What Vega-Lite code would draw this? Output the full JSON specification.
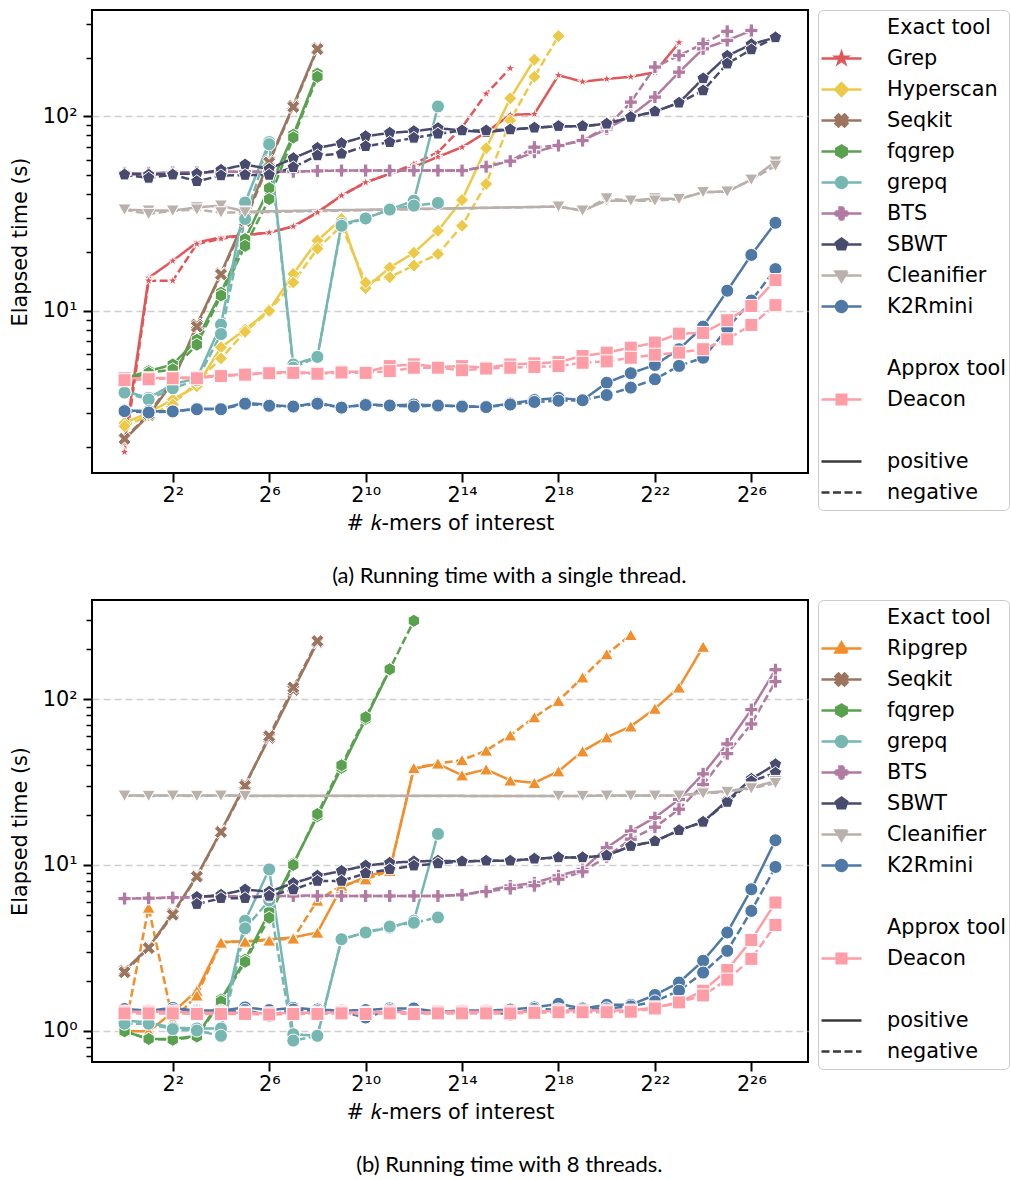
{
"$schema": "https://vega.github.io/schema/vega-lite/v6.json",
"background": "white",
"padding": {"left": 8, "top": 8, "right": 0, "bottom": 0},
"spacing": 10,
"datasets": {
"single": [
{"tool":"Grep","type":"positive","k":1,"t":2.1},{"tool":"Grep","type":"positive","k":2,"t":14.8},{"tool":"Grep","type":"positive","k":4,"t":18.1},{"tool":"Grep","type":"positive","k":8,"t":22.5},{"tool":"Grep","type":"positive","k":16,"t":23.9},{"tool":"Grep","type":"positive","k":32,"t":24.5},{"tool":"Grep","type":"positive","k":64,"t":25.3},{"tool":"Grep","type":"positive","k":128,"t":27.2},{"tool":"Grep","type":"positive","k":256,"t":32.1},{"tool":"Grep","type":"positive","k":512,"t":39.2},{"tool":"Grep","type":"positive","k":1024,"t":45.8},{"tool":"Grep","type":"positive","k":2048,"t":50.7},{"tool":"Grep","type":"positive","k":4096,"t":55},{"tool":"Grep","type":"positive","k":8192,"t":62},{"tool":"Grep","type":"positive","k":16384,"t":69.5},{"tool":"Grep","type":"positive","k":32768,"t":83},{"tool":"Grep","type":"positive","k":65536,"t":102},{"tool":"Grep","type":"positive","k":131072,"t":103},{"tool":"Grep","type":"positive","k":262144,"t":163},{"tool":"Grep","type":"positive","k":524288,"t":151},{"tool":"Grep","type":"positive","k":1048576,"t":156},{"tool":"Grep","type":"positive","k":2097152,"t":160},{"tool":"Grep","type":"positive","k":4194304,"t":169},{"tool":"Grep","type":"positive","k":8388608,"t":240},
{"tool":"Grep","type":"negative","k":1,"t":1.88},{"tool":"Grep","type":"negative","k":2,"t":14.3},{"tool":"Grep","type":"negative","k":4,"t":14.3},{"tool":"Grep","type":"negative","k":8,"t":22.1},{"tool":"Grep","type":"negative","k":16,"t":23.5},{"tool":"Grep","type":"negative","k":32,"t":24.5},{"tool":"Grep","type":"negative","k":64,"t":25.3},{"tool":"Grep","type":"negative","k":128,"t":27.2},{"tool":"Grep","type":"negative","k":256,"t":32.1},{"tool":"Grep","type":"negative","k":512,"t":39.2},{"tool":"Grep","type":"negative","k":1024,"t":45.8},{"tool":"Grep","type":"negative","k":2048,"t":50.7},{"tool":"Grep","type":"negative","k":4096,"t":57},{"tool":"Grep","type":"negative","k":8192,"t":65.5},{"tool":"Grep","type":"negative","k":16384,"t":88},{"tool":"Grep","type":"negative","k":32768,"t":131},{"tool":"Grep","type":"negative","k":65536,"t":177},
{"tool":"Hyperscan","type":"positive","k":1,"t":2.65},{"tool":"Hyperscan","type":"positive","k":2,"t":3.0},{"tool":"Hyperscan","type":"positive","k":4,"t":3.5},{"tool":"Hyperscan","type":"positive","k":8,"t":4.1},{"tool":"Hyperscan","type":"positive","k":16,"t":6.5},{"tool":"Hyperscan","type":"positive","k":32,"t":8.0},{"tool":"Hyperscan","type":"positive","k":64,"t":10.1},{"tool":"Hyperscan","type":"positive","k":128,"t":15.5},{"tool":"Hyperscan","type":"positive","k":256,"t":23.0},{"tool":"Hyperscan","type":"positive","k":512,"t":29.7},{"tool":"Hyperscan","type":"positive","k":1024,"t":13.1},{"tool":"Hyperscan","type":"positive","k":2048,"t":16.7},{"tool":"Hyperscan","type":"positive","k":4096,"t":19.9},{"tool":"Hyperscan","type":"positive","k":8192,"t":25.8},{"tool":"Hyperscan","type":"positive","k":16384,"t":37.2},{"tool":"Hyperscan","type":"positive","k":32768,"t":68.7},{"tool":"Hyperscan","type":"positive","k":65536,"t":124},{"tool":"Hyperscan","type":"positive","k":131072,"t":196},
{"tool":"Hyperscan","type":"negative","k":1,"t":2.55},{"tool":"Hyperscan","type":"negative","k":2,"t":2.9},{"tool":"Hyperscan","type":"negative","k":4,"t":3.3},{"tool":"Hyperscan","type":"negative","k":8,"t":4.3},{"tool":"Hyperscan","type":"negative","k":16,"t":5.7},{"tool":"Hyperscan","type":"negative","k":32,"t":7.8},{"tool":"Hyperscan","type":"negative","k":64,"t":10.0},{"tool":"Hyperscan","type":"negative","k":128,"t":14.0},{"tool":"Hyperscan","type":"negative","k":256,"t":20.9},{"tool":"Hyperscan","type":"negative","k":512,"t":27.4},{"tool":"Hyperscan","type":"negative","k":1024,"t":14.0},{"tool":"Hyperscan","type":"negative","k":2048,"t":14.9},{"tool":"Hyperscan","type":"negative","k":4096,"t":17.1},{"tool":"Hyperscan","type":"negative","k":8192,"t":19.6},{"tool":"Hyperscan","type":"negative","k":16384,"t":27.4},{"tool":"Hyperscan","type":"negative","k":32768,"t":45},{"tool":"Hyperscan","type":"negative","k":65536,"t":95.3},{"tool":"Hyperscan","type":"negative","k":131072,"t":160},{"tool":"Hyperscan","type":"negative","k":262144,"t":259},
{"tool":"Seqkit","type":"positive","k":1,"t":2.18},{"tool":"Seqkit","type":"positive","k":2,"t":2.9},{"tool":"Seqkit","type":"positive","k":4,"t":4.3},{"tool":"Seqkit","type":"positive","k":8,"t":8.5},{"tool":"Seqkit","type":"positive","k":16,"t":15.6},{"tool":"Seqkit","type":"positive","k":32,"t":30},{"tool":"Seqkit","type":"positive","k":64,"t":59},{"tool":"Seqkit","type":"positive","k":128,"t":114},{"tool":"Seqkit","type":"positive","k":256,"t":225},
{"tool":"Seqkit","type":"negative","k":1,"t":2.2},{"tool":"Seqkit","type":"negative","k":2,"t":2.95},{"tool":"Seqkit","type":"negative","k":4,"t":4.4},{"tool":"Seqkit","type":"negative","k":8,"t":8.3},{"tool":"Seqkit","type":"negative","k":16,"t":15.4},{"tool":"Seqkit","type":"negative","k":32,"t":29},{"tool":"Seqkit","type":"negative","k":64,"t":58},{"tool":"Seqkit","type":"negative","k":128,"t":112},{"tool":"Seqkit","type":"negative","k":256,"t":222},
{"tool":"fqgrep","type":"positive","k":1,"t":4.5},{"tool":"fqgrep","type":"positive","k":2,"t":4.9},{"tool":"fqgrep","type":"positive","k":4,"t":5.3},{"tool":"fqgrep","type":"positive","k":8,"t":7.1},{"tool":"fqgrep","type":"positive","k":16,"t":12.4},{"tool":"fqgrep","type":"positive","k":32,"t":23.4},{"tool":"fqgrep","type":"positive","k":64,"t":42.8},{"tool":"fqgrep","type":"positive","k":128,"t":80.5},{"tool":"fqgrep","type":"positive","k":256,"t":166},
{"tool":"fqgrep","type":"negative","k":1,"t":4.4},{"tool":"fqgrep","type":"negative","k":2,"t":4.8},{"tool":"fqgrep","type":"negative","k":4,"t":5.0},{"tool":"fqgrep","type":"negative","k":8,"t":6.7},{"tool":"fqgrep","type":"negative","k":16,"t":12.0},{"tool":"fqgrep","type":"negative","k":32,"t":21.6},{"tool":"fqgrep","type":"negative","k":64,"t":37.6},{"tool":"fqgrep","type":"negative","k":128,"t":78},{"tool":"fqgrep","type":"negative","k":256,"t":160},
{"tool":"grepq","type":"positive","k":1,"t":3.87},{"tool":"grepq","type":"positive","k":2,"t":3.57},{"tool":"grepq","type":"positive","k":4,"t":4.19},{"tool":"grepq","type":"positive","k":8,"t":4.5},{"tool":"grepq","type":"positive","k":16,"t":8.5},{"tool":"grepq","type":"positive","k":32,"t":36.1},{"tool":"grepq","type":"positive","k":64,"t":73.8},{"tool":"grepq","type":"positive","k":128,"t":5.3},{"tool":"grepq","type":"positive","k":256,"t":5.8},{"tool":"grepq","type":"positive","k":512,"t":28},{"tool":"grepq","type":"positive","k":1024,"t":29.9},{"tool":"grepq","type":"positive","k":2048,"t":33.2},{"tool":"grepq","type":"positive","k":4096,"t":36.9},{"tool":"grepq","type":"positive","k":8192,"t":112.6},
{"tool":"grepq","type":"negative","k":1,"t":3.8},{"tool":"grepq","type":"negative","k":2,"t":3.5},{"tool":"grepq","type":"negative","k":4,"t":4.0},{"tool":"grepq","type":"negative","k":8,"t":4.4},{"tool":"grepq","type":"negative","k":16,"t":7.6},{"tool":"grepq","type":"negative","k":32,"t":29.7},{"tool":"grepq","type":"negative","k":64,"t":72},{"tool":"grepq","type":"negative","k":128,"t":5.1},{"tool":"grepq","type":"negative","k":256,"t":5.8},{"tool":"grepq","type":"negative","k":512,"t":27.4},{"tool":"grepq","type":"negative","k":1024,"t":29.9},{"tool":"grepq","type":"negative","k":2048,"t":33.2},{"tool":"grepq","type":"negative","k":4096,"t":34.8},{"tool":"grepq","type":"negative","k":8192,"t":35.9},
{"tool":"BTS","type":"positive","k":1,"t":51},{"tool":"BTS","type":"positive","k":2,"t":51},{"tool":"BTS","type":"positive","k":4,"t":51.5},{"tool":"BTS","type":"positive","k":8,"t":51.5},{"tool":"BTS","type":"positive","k":16,"t":52},{"tool":"BTS","type":"positive","k":32,"t":52},{"tool":"BTS","type":"positive","k":64,"t":52},{"tool":"BTS","type":"positive","k":128,"t":52},{"tool":"BTS","type":"positive","k":256,"t":52.5},{"tool":"BTS","type":"positive","k":512,"t":52.7},{"tool":"BTS","type":"positive","k":1024,"t":52.7},{"tool":"BTS","type":"positive","k":2048,"t":52.7},{"tool":"BTS","type":"positive","k":4096,"t":52.7},{"tool":"BTS","type":"positive","k":8192,"t":52.7},{"tool":"BTS","type":"positive","k":16384,"t":52.7},{"tool":"BTS","type":"positive","k":32768,"t":55.2},{"tool":"BTS","type":"positive","k":65536,"t":58.9},{"tool":"BTS","type":"positive","k":131072,"t":65.5},{"tool":"BTS","type":"positive","k":262144,"t":70.9},{"tool":"BTS","type":"positive","k":524288,"t":75.2},{"tool":"BTS","type":"positive","k":1048576,"t":86.3},{"tool":"BTS","type":"positive","k":2097152,"t":101},{"tool":"BTS","type":"positive","k":4194304,"t":125.8},{"tool":"BTS","type":"positive","k":8388608,"t":169},{"tool":"BTS","type":"positive","k":16777216,"t":223},{"tool":"BTS","type":"positive","k":33554432,"t":246},{"tool":"BTS","type":"positive","k":67108864,"t":277},
{"tool":"BTS","type":"negative","k":1,"t":51},{"tool":"BTS","type":"negative","k":2,"t":51},{"tool":"BTS","type":"negative","k":4,"t":51.5},{"tool":"BTS","type":"negative","k":8,"t":51.5},{"tool":"BTS","type":"negative","k":16,"t":52},{"tool":"BTS","type":"negative","k":32,"t":52},{"tool":"BTS","type":"negative","k":64,"t":52},{"tool":"BTS","type":"negative","k":128,"t":52},{"tool":"BTS","type":"negative","k":256,"t":52.5},{"tool":"BTS","type":"negative","k":512,"t":52.7},{"tool":"BTS","type":"negative","k":1024,"t":52.7},{"tool":"BTS","type":"negative","k":2048,"t":52.7},{"tool":"BTS","type":"negative","k":4096,"t":52.7},{"tool":"BTS","type":"negative","k":8192,"t":52.7},{"tool":"BTS","type":"negative","k":16384,"t":52.7},{"tool":"BTS","type":"negative","k":32768,"t":55.2},{"tool":"BTS","type":"negative","k":65536,"t":58.9},{"tool":"BTS","type":"negative","k":131072,"t":69.5},{"tool":"BTS","type":"negative","k":262144,"t":70.9},{"tool":"BTS","type":"negative","k":524288,"t":75.2},{"tool":"BTS","type":"negative","k":1048576,"t":88.1},{"tool":"BTS","type":"negative","k":2097152,"t":118.5},{"tool":"BTS","type":"negative","k":4194304,"t":179.6},{"tool":"BTS","type":"negative","k":8388608,"t":206},{"tool":"BTS","type":"negative","k":16777216,"t":237},{"tool":"BTS","type":"negative","k":33554432,"t":274},
{"tool":"SBWT","type":"positive","k":1,"t":50.7},{"tool":"SBWT","type":"positive","k":2,"t":50.2},{"tool":"SBWT","type":"positive","k":4,"t":50.7},{"tool":"SBWT","type":"positive","k":8,"t":50.7},{"tool":"SBWT","type":"positive","k":16,"t":53.1},{"tool":"SBWT","type":"positive","k":32,"t":56.6},{"tool":"SBWT","type":"positive","k":64,"t":53.7},{"tool":"SBWT","type":"positive","k":128,"t":61},{"tool":"SBWT","type":"positive","k":256,"t":68.9},{"tool":"SBWT","type":"positive","k":512,"t":72.8},{"tool":"SBWT","type":"positive","k":1024,"t":79.1},{"tool":"SBWT","type":"positive","k":2048,"t":82.4},{"tool":"SBWT","type":"positive","k":4096,"t":84},{"tool":"SBWT","type":"positive","k":8192,"t":87.1},{"tool":"SBWT","type":"positive","k":16384,"t":84.7},{"tool":"SBWT","type":"positive","k":32768,"t":83},{"tool":"SBWT","type":"positive","k":65536,"t":85.7},{"tool":"SBWT","type":"positive","k":131072,"t":87.5},{"tool":"SBWT","type":"positive","k":262144,"t":89.2},{"tool":"SBWT","type":"positive","k":524288,"t":89.2},{"tool":"SBWT","type":"positive","k":1048576,"t":91.7},{"tool":"SBWT","type":"positive","k":2097152,"t":99.3},{"tool":"SBWT","type":"positive","k":4194304,"t":106},{"tool":"SBWT","type":"positive","k":8388608,"t":117.6},{"tool":"SBWT","type":"positive","k":16777216,"t":157},{"tool":"SBWT","type":"positive","k":33554432,"t":205},{"tool":"SBWT","type":"positive","k":67108864,"t":235},{"tool":"SBWT","type":"positive","k":134217728,"t":255},
{"tool":"SBWT","type":"negative","k":1,"t":50.2},{"tool":"SBWT","type":"negative","k":2,"t":48.3},{"tool":"SBWT","type":"negative","k":4,"t":50.2},{"tool":"SBWT","type":"negative","k":8,"t":46.4},{"tool":"SBWT","type":"negative","k":16,"t":49.7},{"tool":"SBWT","type":"negative","k":32,"t":50},{"tool":"SBWT","type":"negative","k":64,"t":50},{"tool":"SBWT","type":"negative","k":128,"t":54.8},{"tool":"SBWT","type":"negative","k":256,"t":63},{"tool":"SBWT","type":"negative","k":512,"t":64.3},{"tool":"SBWT","type":"negative","k":1024,"t":70.3},{"tool":"SBWT","type":"negative","k":2048,"t":73.7},{"tool":"SBWT","type":"negative","k":4096,"t":77.6},{"tool":"SBWT","type":"negative","k":8192,"t":81.5},{"tool":"SBWT","type":"negative","k":16384,"t":84.7},{"tool":"SBWT","type":"negative","k":32768,"t":84.7},{"tool":"SBWT","type":"negative","k":65536,"t":85.7},{"tool":"SBWT","type":"negative","k":131072,"t":87.5},{"tool":"SBWT","type":"negative","k":262144,"t":89.2},{"tool":"SBWT","type":"negative","k":524288,"t":89.2},{"tool":"SBWT","type":"negative","k":1048576,"t":91.7},{"tool":"SBWT","type":"negative","k":2097152,"t":99.3},{"tool":"SBWT","type":"negative","k":4194304,"t":106},{"tool":"SBWT","type":"negative","k":8388608,"t":117.6},{"tool":"SBWT","type":"negative","k":16777216,"t":136},{"tool":"SBWT","type":"negative","k":33554432,"t":187},{"tool":"SBWT","type":"negative","k":67108864,"t":221},{"tool":"SBWT","type":"negative","k":134217728,"t":255},
{"tool":"Cleanifier","type":"positive","k":1,"t":33.2},{"tool":"Cleanifier","type":"positive","k":2,"t":32.8},{"tool":"Cleanifier","type":"positive","k":4,"t":32.8},{"tool":"Cleanifier","type":"positive","k":8,"t":34.1},{"tool":"Cleanifier","type":"positive","k":16,"t":34.8},{"tool":"Cleanifier","type":"positive","k":32,"t":32.4},{"tool":"Cleanifier","type":"positive","k":262144,"t":34.4},{"tool":"Cleanifier","type":"positive","k":524288,"t":32.8},{"tool":"Cleanifier","type":"positive","k":1048576,"t":36.9},{"tool":"Cleanifier","type":"positive","k":2097152,"t":36.9},{"tool":"Cleanifier","type":"positive","k":4194304,"t":37.9},{"tool":"Cleanifier","type":"positive","k":8388608,"t":37.6},{"tool":"Cleanifier","type":"positive","k":16777216,"t":40.8},{"tool":"Cleanifier","type":"positive","k":33554432,"t":41.1},{"tool":"Cleanifier","type":"positive","k":67108864,"t":47.3},{"tool":"Cleanifier","type":"positive","k":134217728,"t":58.6},
{"tool":"Cleanifier","type":"negative","k":1,"t":33.2},{"tool":"Cleanifier","type":"negative","k":2,"t":31.5},{"tool":"Cleanifier","type":"negative","k":4,"t":32.8},{"tool":"Cleanifier","type":"negative","k":8,"t":33.2},{"tool":"Cleanifier","type":"negative","k":16,"t":32.1},{"tool":"Cleanifier","type":"negative","k":32,"t":32.1},{"tool":"Cleanifier","type":"negative","k":262144,"t":34.4},{"tool":"Cleanifier","type":"negative","k":524288,"t":32.8},{"tool":"Cleanifier","type":"negative","k":1048576,"t":37.9},{"tool":"Cleanifier","type":"negative","k":2097152,"t":36.9},{"tool":"Cleanifier","type":"negative","k":4194304,"t":36.9},{"tool":"Cleanifier","type":"negative","k":8388608,"t":37.6},{"tool":"Cleanifier","type":"negative","k":16777216,"t":40.8},{"tool":"Cleanifier","type":"negative","k":33554432,"t":41.1},{"tool":"Cleanifier","type":"negative","k":67108864,"t":47.3},{"tool":"Cleanifier","type":"negative","k":134217728,"t":55.8},
{"tool":"K2Rmini","type":"positive","k":1,"t":3.08},{"tool":"K2Rmini","type":"positive","k":2,"t":3.05},{"tool":"K2Rmini","type":"positive","k":4,"t":3.04},{"tool":"K2Rmini","type":"positive","k":8,"t":3.14},{"tool":"K2Rmini","type":"positive","k":16,"t":3.14},{"tool":"K2Rmini","type":"positive","k":32,"t":3.37},{"tool":"K2Rmini","type":"positive","k":64,"t":3.28},{"tool":"K2Rmini","type":"positive","k":128,"t":3.22},{"tool":"K2Rmini","type":"positive","k":256,"t":3.37},{"tool":"K2Rmini","type":"positive","k":512,"t":3.18},{"tool":"K2Rmini","type":"positive","k":1024,"t":3.31},{"tool":"K2Rmini","type":"positive","k":2048,"t":3.26},{"tool":"K2Rmini","type":"positive","k":4096,"t":3.3},{"tool":"K2Rmini","type":"positive","k":8192,"t":3.26},{"tool":"K2Rmini","type":"positive","k":16384,"t":3.24},{"tool":"K2Rmini","type":"positive","k":32768,"t":3.2},{"tool":"K2Rmini","type":"positive","k":65536,"t":3.34},{"tool":"K2Rmini","type":"positive","k":131072,"t":3.48},{"tool":"K2Rmini","type":"positive","k":262144,"t":3.57},{"tool":"K2Rmini","type":"positive","k":524288,"t":3.47},{"tool":"K2Rmini","type":"positive","k":1048576,"t":4.27},{"tool":"K2Rmini","type":"positive","k":2097152,"t":4.78},{"tool":"K2Rmini","type":"positive","k":4194304,"t":5.27},{"tool":"K2Rmini","type":"positive","k":8388608,"t":6.35},{"tool":"K2Rmini","type":"positive","k":16777216,"t":8.3},{"tool":"K2Rmini","type":"positive","k":33554432,"t":12.7},{"tool":"K2Rmini","type":"positive","k":67108864,"t":19.4},{"tool":"K2Rmini","type":"positive","k":134217728,"t":28.4},
{"tool":"K2Rmini","type":"negative","k":1,"t":3.05},{"tool":"K2Rmini","type":"negative","k":2,"t":3.0},{"tool":"K2Rmini","type":"negative","k":4,"t":3.04},{"tool":"K2Rmini","type":"negative","k":8,"t":3.12},{"tool":"K2Rmini","type":"negative","k":16,"t":3.12},{"tool":"K2Rmini","type":"negative","k":32,"t":3.33},{"tool":"K2Rmini","type":"negative","k":64,"t":3.25},{"tool":"K2Rmini","type":"negative","k":128,"t":3.22},{"tool":"K2Rmini","type":"negative","k":256,"t":3.33},{"tool":"K2Rmini","type":"negative","k":512,"t":3.18},{"tool":"K2Rmini","type":"negative","k":1024,"t":3.28},{"tool":"K2Rmini","type":"negative","k":2048,"t":3.26},{"tool":"K2Rmini","type":"negative","k":4096,"t":3.22},{"tool":"K2Rmini","type":"negative","k":8192,"t":3.26},{"tool":"K2Rmini","type":"negative","k":16384,"t":3.22},{"tool":"K2Rmini","type":"negative","k":32768,"t":3.2},{"tool":"K2Rmini","type":"negative","k":65536,"t":3.3},{"tool":"K2Rmini","type":"negative","k":131072,"t":3.4},{"tool":"K2Rmini","type":"negative","k":262144,"t":3.45},{"tool":"K2Rmini","type":"negative","k":524288,"t":3.47},{"tool":"K2Rmini","type":"negative","k":1048576,"t":3.69},{"tool":"K2Rmini","type":"negative","k":2097152,"t":4.03},{"tool":"K2Rmini","type":"negative","k":4194304,"t":4.45},{"tool":"K2Rmini","type":"negative","k":8388608,"t":5.21},{"tool":"K2Rmini","type":"negative","k":16777216,"t":5.74},{"tool":"K2Rmini","type":"negative","k":33554432,"t":8.1},{"tool":"K2Rmini","type":"negative","k":67108864,"t":11.3},{"tool":"K2Rmini","type":"negative","k":134217728,"t":16.4},
{"tool":"Deacon","type":"positive","k":1,"t":4.5},{"tool":"Deacon","type":"positive","k":2,"t":4.5},{"tool":"Deacon","type":"positive","k":4,"t":4.53},{"tool":"Deacon","type":"positive","k":8,"t":4.55},{"tool":"Deacon","type":"positive","k":16,"t":4.67},{"tool":"Deacon","type":"positive","k":32,"t":4.72},{"tool":"Deacon","type":"positive","k":64,"t":4.81},{"tool":"Deacon","type":"positive","k":128,"t":4.85},{"tool":"Deacon","type":"positive","k":256,"t":4.78},{"tool":"Deacon","type":"positive","k":512,"t":4.87},{"tool":"Deacon","type":"positive","k":1024,"t":4.85},{"tool":"Deacon","type":"positive","k":2048,"t":5.2},{"tool":"Deacon","type":"positive","k":4096,"t":5.31},{"tool":"Deacon","type":"positive","k":8192,"t":5.15},{"tool":"Deacon","type":"positive","k":16384,"t":5.2},{"tool":"Deacon","type":"positive","k":32768,"t":5.1},{"tool":"Deacon","type":"positive","k":65536,"t":5.3},{"tool":"Deacon","type":"positive","k":131072,"t":5.37},{"tool":"Deacon","type":"positive","k":262144,"t":5.45},{"tool":"Deacon","type":"positive","k":524288,"t":5.86},{"tool":"Deacon","type":"positive","k":1048576,"t":6.1},{"tool":"Deacon","type":"positive","k":2097152,"t":6.47},{"tool":"Deacon","type":"positive","k":4194304,"t":6.87},{"tool":"Deacon","type":"positive","k":8388608,"t":7.64},{"tool":"Deacon","type":"positive","k":16777216,"t":7.7},{"tool":"Deacon","type":"positive","k":33554432,"t":8.95},{"tool":"Deacon","type":"positive","k":67108864,"t":10.6},{"tool":"Deacon","type":"positive","k":134217728,"t":14.4},
{"tool":"Deacon","type":"negative","k":1,"t":4.4},{"tool":"Deacon","type":"negative","k":2,"t":4.45},{"tool":"Deacon","type":"negative","k":4,"t":4.5},{"tool":"Deacon","type":"negative","k":8,"t":4.5},{"tool":"Deacon","type":"negative","k":16,"t":4.62},{"tool":"Deacon","type":"negative","k":32,"t":4.7},{"tool":"Deacon","type":"negative","k":64,"t":4.78},{"tool":"Deacon","type":"negative","k":128,"t":4.8},{"tool":"Deacon","type":"negative","k":256,"t":4.75},{"tool":"Deacon","type":"negative","k":512,"t":4.82},{"tool":"Deacon","type":"negative","k":1024,"t":4.8},{"tool":"Deacon","type":"negative","k":2048,"t":4.9},{"tool":"Deacon","type":"negative","k":4096,"t":5.1},{"tool":"Deacon","type":"negative","k":8192,"t":5.1},{"tool":"Deacon","type":"negative","k":16384,"t":4.95},{"tool":"Deacon","type":"negative","k":32768,"t":5.05},{"tool":"Deacon","type":"negative","k":65536,"t":5.1},{"tool":"Deacon","type":"negative","k":131072,"t":5.15},{"tool":"Deacon","type":"negative","k":262144,"t":5.2},{"tool":"Deacon","type":"negative","k":524288,"t":5.41},{"tool":"Deacon","type":"negative","k":1048576,"t":5.5},{"tool":"Deacon","type":"negative","k":2097152,"t":5.74},{"tool":"Deacon","type":"negative","k":4194304,"t":5.95},{"tool":"Deacon","type":"negative","k":8388608,"t":6.1},{"tool":"Deacon","type":"negative","k":16777216,"t":6.35},{"tool":"Deacon","type":"negative","k":33554432,"t":7.14},{"tool":"Deacon","type":"negative","k":67108864,"t":8.47},{"tool":"Deacon","type":"negative","k":134217728,"t":10.7}
],
"eight": [
{"tool":"Ripgrep","type":"positive","k":1,"t":0.99},{"tool":"Ripgrep","type":"positive","k":2,"t":0.99},{"tool":"Ripgrep","type":"positive","k":4,"t":1.29},{"tool":"Ripgrep","type":"positive","k":8,"t":1.74},{"tool":"Ripgrep","type":"positive","k":16,"t":3.44},{"tool":"Ripgrep","type":"positive","k":32,"t":3.45},{"tool":"Ripgrep","type":"positive","k":64,"t":3.56},{"tool":"Ripgrep","type":"positive","k":128,"t":3.65},{"tool":"Ripgrep","type":"positive","k":256,"t":3.91},{"tool":"Ripgrep","type":"positive","k":512,"t":7.3},{"tool":"Ripgrep","type":"positive","k":1024,"t":8.5},{"tool":"Ripgrep","type":"positive","k":2048,"t":9.3},{"tool":"Ripgrep","type":"positive","k":4096,"t":38},{"tool":"Ripgrep","type":"positive","k":8192,"t":40.8},{"tool":"Ripgrep","type":"positive","k":16384,"t":34.8},{"tool":"Ripgrep","type":"positive","k":32768,"t":37.8},{"tool":"Ripgrep","type":"positive","k":65536,"t":32.4},{"tool":"Ripgrep","type":"positive","k":131072,"t":31.3},{"tool":"Ripgrep","type":"positive","k":262144,"t":36.8},{"tool":"Ripgrep","type":"positive","k":524288,"t":48.6},{"tool":"Ripgrep","type":"positive","k":1048576,"t":59},{"tool":"Ripgrep","type":"positive","k":2097152,"t":68.7},{"tool":"Ripgrep","type":"positive","k":4194304,"t":87.9},{"tool":"Ripgrep","type":"positive","k":8388608,"t":118},{"tool":"Ripgrep","type":"positive","k":16777216,"t":208},
{"tool":"Ripgrep","type":"negative","k":1,"t":1.0},{"tool":"Ripgrep","type":"negative","k":2,"t":5.53},{"tool":"Ripgrep","type":"negative","k":4,"t":1.15},{"tool":"Ripgrep","type":"negative","k":8,"t":1.63},{"tool":"Ripgrep","type":"negative","k":16,"t":3.4},{"tool":"Ripgrep","type":"negative","k":32,"t":3.45},{"tool":"Ripgrep","type":"negative","k":64,"t":3.5},{"tool":"Ripgrep","type":"negative","k":128,"t":3.6},{"tool":"Ripgrep","type":"negative","k":256,"t":6.1},{"tool":"Ripgrep","type":"negative","k":512,"t":7.5},{"tool":"Ripgrep","type":"negative","k":1024,"t":8.2},{"tool":"Ripgrep","type":"negative","k":2048,"t":9.2},{"tool":"Ripgrep","type":"negative","k":4096,"t":38.5},{"tool":"Ripgrep","type":"negative","k":8192,"t":41},{"tool":"Ripgrep","type":"negative","k":16384,"t":43},{"tool":"Ripgrep","type":"negative","k":32768,"t":49.1},{"tool":"Ripgrep","type":"negative","k":65536,"t":60.7},{"tool":"Ripgrep","type":"negative","k":131072,"t":78},{"tool":"Ripgrep","type":"negative","k":262144,"t":98},{"tool":"Ripgrep","type":"negative","k":524288,"t":135.8},{"tool":"Ripgrep","type":"negative","k":1048576,"t":187.5},{"tool":"Ripgrep","type":"negative","k":2097152,"t":245},
{"tool":"Seqkit","type":"positive","k":1,"t":2.3},{"tool":"Seqkit","type":"positive","k":2,"t":3.18},{"tool":"Seqkit","type":"positive","k":4,"t":5.1},{"tool":"Seqkit","type":"positive","k":8,"t":8.6},{"tool":"Seqkit","type":"positive","k":16,"t":16.0},{"tool":"Seqkit","type":"positive","k":32,"t":30.6},{"tool":"Seqkit","type":"positive","k":64,"t":58.5},{"tool":"Seqkit","type":"positive","k":128,"t":114},{"tool":"Seqkit","type":"positive","k":256,"t":221},
{"tool":"Seqkit","type":"negative","k":1,"t":2.25},{"tool":"Seqkit","type":"negative","k":2,"t":3.15},{"tool":"Seqkit","type":"negative","k":4,"t":5.0},{"tool":"Seqkit","type":"negative","k":8,"t":8.5},{"tool":"Seqkit","type":"negative","k":16,"t":15.8},{"tool":"Seqkit","type":"negative","k":32,"t":30},{"tool":"Seqkit","type":"negative","k":64,"t":60},{"tool":"Seqkit","type":"negative","k":128,"t":118},{"tool":"Seqkit","type":"negative","k":256,"t":225},
{"tool":"fqgrep","type":"positive","k":1,"t":0.99},{"tool":"fqgrep","type":"positive","k":2,"t":0.89},{"tool":"fqgrep","type":"positive","k":4,"t":0.89},{"tool":"fqgrep","type":"positive","k":8,"t":0.93},{"tool":"fqgrep","type":"positive","k":16,"t":1.54},{"tool":"fqgrep","type":"positive","k":32,"t":2.68},{"tool":"fqgrep","type":"positive","k":64,"t":5.2},{"tool":"fqgrep","type":"positive","k":128,"t":10.2},{"tool":"fqgrep","type":"positive","k":256,"t":19.7},{"tool":"fqgrep","type":"positive","k":512,"t":38.6},{"tool":"fqgrep","type":"positive","k":1024,"t":76},{"tool":"fqgrep","type":"positive","k":2048,"t":151},
{"tool":"fqgrep","type":"negative","k":1,"t":0.99},{"tool":"fqgrep","type":"negative","k":2,"t":0.89},{"tool":"fqgrep","type":"negative","k":4,"t":0.88},{"tool":"fqgrep","type":"negative","k":8,"t":0.92},{"tool":"fqgrep","type":"negative","k":16,"t":1.5},{"tool":"fqgrep","type":"negative","k":32,"t":2.6},{"tool":"fqgrep","type":"negative","k":64,"t":4.8},{"tool":"fqgrep","type":"negative","k":128,"t":10.0},{"tool":"fqgrep","type":"negative","k":256,"t":20.3},{"tool":"fqgrep","type":"negative","k":512,"t":40},{"tool":"fqgrep","type":"negative","k":1024,"t":78},{"tool":"fqgrep","type":"negative","k":2048,"t":152},{"tool":"fqgrep","type":"negative","k":4096,"t":298},
{"tool":"grepq","type":"positive","k":1,"t":1.15},{"tool":"grepq","type":"positive","k":2,"t":1.12},{"tool":"grepq","type":"positive","k":4,"t":1.04},{"tool":"grepq","type":"positive","k":8,"t":1.03},{"tool":"grepq","type":"positive","k":16,"t":1.03},{"tool":"grepq","type":"positive","k":32,"t":4.6},{"tool":"grepq","type":"positive","k":64,"t":9.4},{"tool":"grepq","type":"positive","k":128,"t":0.95},{"tool":"grepq","type":"positive","k":256,"t":0.93},{"tool":"grepq","type":"positive","k":512,"t":3.56},{"tool":"grepq","type":"positive","k":1024,"t":3.91},{"tool":"grepq","type":"positive","k":2048,"t":4.19},{"tool":"grepq","type":"positive","k":4096,"t":4.6},{"tool":"grepq","type":"positive","k":8192,"t":15.4},
{"tool":"grepq","type":"negative","k":1,"t":1.1},{"tool":"grepq","type":"negative","k":2,"t":1.1},{"tool":"grepq","type":"negative","k":4,"t":1.02},{"tool":"grepq","type":"negative","k":8,"t":1.0},{"tool":"grepq","type":"negative","k":16,"t":0.93},{"tool":"grepq","type":"negative","k":32,"t":4.14},{"tool":"grepq","type":"negative","k":64,"t":6.1},{"tool":"grepq","type":"negative","k":128,"t":0.87},{"tool":"grepq","type":"negative","k":256,"t":0.93},{"tool":"grepq","type":"negative","k":512,"t":3.56},{"tool":"grepq","type":"negative","k":1024,"t":3.91},{"tool":"grepq","type":"negative","k":2048,"t":4.25},{"tool":"grepq","type":"negative","k":4096,"t":4.48},{"tool":"grepq","type":"negative","k":8192,"t":4.82},
{"tool":"BTS","type":"positive","k":1,"t":6.27},{"tool":"BTS","type":"positive","k":2,"t":6.3},{"tool":"BTS","type":"positive","k":4,"t":6.35},{"tool":"BTS","type":"positive","k":8,"t":6.4},{"tool":"BTS","type":"positive","k":16,"t":6.45},{"tool":"BTS","type":"positive","k":32,"t":6.45},{"tool":"BTS","type":"positive","k":64,"t":6.5},{"tool":"BTS","type":"positive","k":128,"t":6.5},{"tool":"BTS","type":"positive","k":256,"t":6.56},{"tool":"BTS","type":"positive","k":512,"t":6.5},{"tool":"BTS","type":"positive","k":1024,"t":6.5},{"tool":"BTS","type":"positive","k":2048,"t":6.5},{"tool":"BTS","type":"positive","k":4096,"t":6.5},{"tool":"BTS","type":"positive","k":8192,"t":6.5},{"tool":"BTS","type":"positive","k":16384,"t":6.6},{"tool":"BTS","type":"positive","k":32768,"t":7.0},{"tool":"BTS","type":"positive","k":65536,"t":7.46},{"tool":"BTS","type":"positive","k":131072,"t":7.8},{"tool":"BTS","type":"positive","k":262144,"t":8.6},{"tool":"BTS","type":"positive","k":524288,"t":9.4},{"tool":"BTS","type":"positive","k":1048576,"t":12.7},{"tool":"BTS","type":"positive","k":2097152,"t":16.0},{"tool":"BTS","type":"positive","k":4194304,"t":19.3},{"tool":"BTS","type":"positive","k":8388608,"t":24.9},{"tool":"BTS","type":"positive","k":16777216,"t":35.5},{"tool":"BTS","type":"positive","k":33554432,"t":53.8},{"tool":"BTS","type":"positive","k":67108864,"t":86.7},{"tool":"BTS","type":"positive","k":134217728,"t":151},
{"tool":"BTS","type":"negative","k":1,"t":6.27},{"tool":"BTS","type":"negative","k":2,"t":6.3},{"tool":"BTS","type":"negative","k":4,"t":6.35},{"tool":"BTS","type":"negative","k":8,"t":6.4},{"tool":"BTS","type":"negative","k":16,"t":6.45},{"tool":"BTS","type":"negative","k":32,"t":6.45},{"tool":"BTS","type":"negative","k":64,"t":6.5},{"tool":"BTS","type":"negative","k":128,"t":6.5},{"tool":"BTS","type":"negative","k":256,"t":6.5},{"tool":"BTS","type":"negative","k":512,"t":6.5},{"tool":"BTS","type":"negative","k":1024,"t":6.5},{"tool":"BTS","type":"negative","k":2048,"t":6.5},{"tool":"BTS","type":"negative","k":4096,"t":6.5},{"tool":"BTS","type":"negative","k":8192,"t":6.5},{"tool":"BTS","type":"negative","k":16384,"t":6.6},{"tool":"BTS","type":"negative","k":32768,"t":6.9},{"tool":"BTS","type":"negative","k":65536,"t":7.2},{"tool":"BTS","type":"negative","k":131072,"t":7.5},{"tool":"BTS","type":"negative","k":262144,"t":8.2},{"tool":"BTS","type":"negative","k":524288,"t":9.1},{"tool":"BTS","type":"negative","k":1048576,"t":11.2},{"tool":"BTS","type":"negative","k":2097152,"t":14.3},{"tool":"BTS","type":"negative","k":4194304,"t":16.9},{"tool":"BTS","type":"negative","k":8388608,"t":21.7},{"tool":"BTS","type":"negative","k":16777216,"t":30.6},{"tool":"BTS","type":"negative","k":33554432,"t":47},{"tool":"BTS","type":"negative","k":67108864,"t":71},{"tool":"BTS","type":"negative","k":134217728,"t":128},
{"tool":"SBWT","type":"positive","k":8,"t":6.4},{"tool":"SBWT","type":"positive","k":16,"t":6.6},{"tool":"SBWT","type":"positive","k":32,"t":7.1},{"tool":"SBWT","type":"positive","k":64,"t":6.9},{"tool":"SBWT","type":"positive","k":128,"t":7.76},{"tool":"SBWT","type":"positive","k":256,"t":8.6},{"tool":"SBWT","type":"positive","k":512,"t":9.2},{"tool":"SBWT","type":"positive","k":1024,"t":9.9},{"tool":"SBWT","type":"positive","k":2048,"t":10.3},{"tool":"SBWT","type":"positive","k":4096,"t":10.5},{"tool":"SBWT","type":"positive","k":8192,"t":10.6},{"tool":"SBWT","type":"positive","k":16384,"t":10.5},{"tool":"SBWT","type":"positive","k":32768,"t":10.6},{"tool":"SBWT","type":"positive","k":65536,"t":10.6},{"tool":"SBWT","type":"positive","k":131072,"t":10.9},{"tool":"SBWT","type":"positive","k":262144,"t":11.1},{"tool":"SBWT","type":"positive","k":524288,"t":11.1},{"tool":"SBWT","type":"positive","k":1048576,"t":11.4},{"tool":"SBWT","type":"positive","k":2097152,"t":13.0},{"tool":"SBWT","type":"positive","k":4194304,"t":13.9},{"tool":"SBWT","type":"positive","k":8388608,"t":16.2},{"tool":"SBWT","type":"positive","k":16777216,"t":18.2},{"tool":"SBWT","type":"positive","k":33554432,"t":24.5},{"tool":"SBWT","type":"positive","k":67108864,"t":33.1},{"tool":"SBWT","type":"positive","k":134217728,"t":40.5},
{"tool":"SBWT","type":"negative","k":8,"t":5.8},{"tool":"SBWT","type":"negative","k":16,"t":6.3},{"tool":"SBWT","type":"negative","k":32,"t":6.3},{"tool":"SBWT","type":"negative","k":64,"t":6.5},{"tool":"SBWT","type":"negative","k":128,"t":7.1},{"tool":"SBWT","type":"negative","k":256,"t":8.0},{"tool":"SBWT","type":"negative","k":512,"t":8.0},{"tool":"SBWT","type":"negative","k":1024,"t":8.9},{"tool":"SBWT","type":"negative","k":2048,"t":9.4},{"tool":"SBWT","type":"negative","k":4096,"t":9.9},{"tool":"SBWT","type":"negative","k":8192,"t":10.2},{"tool":"SBWT","type":"negative","k":16384,"t":10.5},{"tool":"SBWT","type":"negative","k":32768,"t":10.6},{"tool":"SBWT","type":"negative","k":65536,"t":10.6},{"tool":"SBWT","type":"negative","k":131072,"t":10.9},{"tool":"SBWT","type":"negative","k":262144,"t":11.1},{"tool":"SBWT","type":"negative","k":524288,"t":11.1},{"tool":"SBWT","type":"negative","k":1048576,"t":11.4},{"tool":"SBWT","type":"negative","k":2097152,"t":13.0},{"tool":"SBWT","type":"negative","k":4194304,"t":13.9},{"tool":"SBWT","type":"negative","k":8388608,"t":16.2},{"tool":"SBWT","type":"negative","k":16777216,"t":18.2},{"tool":"SBWT","type":"negative","k":33554432,"t":24.0},{"tool":"SBWT","type":"negative","k":67108864,"t":32},{"tool":"SBWT","type":"negative","k":134217728,"t":36},
{"tool":"Cleanifier","type":"positive","k":1,"t":26.3},{"tool":"Cleanifier","type":"positive","k":2,"t":26.2},{"tool":"Cleanifier","type":"positive","k":4,"t":26.3},{"tool":"Cleanifier","type":"positive","k":8,"t":26.2},{"tool":"Cleanifier","type":"positive","k":16,"t":26.3},{"tool":"Cleanifier","type":"positive","k":32,"t":26.2},{"tool":"Cleanifier","type":"positive","k":262144,"t":26.1},{"tool":"Cleanifier","type":"positive","k":524288,"t":26.1},{"tool":"Cleanifier","type":"positive","k":1048576,"t":26.3},{"tool":"Cleanifier","type":"positive","k":2097152,"t":26.3},{"tool":"Cleanifier","type":"positive","k":4194304,"t":26.3},{"tool":"Cleanifier","type":"positive","k":8388608,"t":26.3},{"tool":"Cleanifier","type":"positive","k":16777216,"t":27.3},{"tool":"Cleanifier","type":"positive","k":33554432,"t":27.9},{"tool":"Cleanifier","type":"positive","k":67108864,"t":29.3},{"tool":"Cleanifier","type":"positive","k":134217728,"t":32.1},
{"tool":"Cleanifier","type":"negative","k":1,"t":26.2},{"tool":"Cleanifier","type":"negative","k":2,"t":26.1},{"tool":"Cleanifier","type":"negative","k":4,"t":26.2},{"tool":"Cleanifier","type":"negative","k":8,"t":26.1},{"tool":"Cleanifier","type":"negative","k":16,"t":26.2},{"tool":"Cleanifier","type":"negative","k":32,"t":26.1},{"tool":"Cleanifier","type":"negative","k":262144,"t":26.1},{"tool":"Cleanifier","type":"negative","k":524288,"t":26.1},{"tool":"Cleanifier","type":"negative","k":1048576,"t":26.2},{"tool":"Cleanifier","type":"negative","k":2097152,"t":26.2},{"tool":"Cleanifier","type":"negative","k":4194304,"t":26.2},{"tool":"Cleanifier","type":"negative","k":8388608,"t":26.2},{"tool":"Cleanifier","type":"negative","k":16777216,"t":27.0},{"tool":"Cleanifier","type":"negative","k":33554432,"t":27.6},{"tool":"Cleanifier","type":"negative","k":67108864,"t":29.0},{"tool":"Cleanifier","type":"negative","k":134217728,"t":31.2},
{"tool":"K2Rmini","type":"positive","k":1,"t":1.35},{"tool":"K2Rmini","type":"positive","k":2,"t":1.32},{"tool":"K2Rmini","type":"positive","k":4,"t":1.37},{"tool":"K2Rmini","type":"positive","k":8,"t":1.32},{"tool":"K2Rmini","type":"positive","k":16,"t":1.32},{"tool":"K2Rmini","type":"positive","k":32,"t":1.38},{"tool":"K2Rmini","type":"positive","k":64,"t":1.33},{"tool":"K2Rmini","type":"positive","k":128,"t":1.37},{"tool":"K2Rmini","type":"positive","k":256,"t":1.34},{"tool":"K2Rmini","type":"positive","k":512,"t":1.32},{"tool":"K2Rmini","type":"positive","k":1024,"t":1.33},{"tool":"K2Rmini","type":"positive","k":2048,"t":1.36},{"tool":"K2Rmini","type":"positive","k":4096,"t":1.36},{"tool":"K2Rmini","type":"positive","k":8192,"t":1.3},{"tool":"K2Rmini","type":"positive","k":16384,"t":1.32},{"tool":"K2Rmini","type":"positive","k":32768,"t":1.32},{"tool":"K2Rmini","type":"positive","k":65536,"t":1.34},{"tool":"K2Rmini","type":"positive","k":131072,"t":1.38},{"tool":"K2Rmini","type":"positive","k":262144,"t":1.45},{"tool":"K2Rmini","type":"positive","k":524288,"t":1.36},{"tool":"K2Rmini","type":"positive","k":1048576,"t":1.43},{"tool":"K2Rmini","type":"positive","k":2097152,"t":1.43},{"tool":"K2Rmini","type":"positive","k":4194304,"t":1.64},{"tool":"K2Rmini","type":"positive","k":8388608,"t":1.95},{"tool":"K2Rmini","type":"positive","k":16777216,"t":2.64},{"tool":"K2Rmini","type":"positive","k":33554432,"t":3.91},{"tool":"K2Rmini","type":"positive","k":67108864,"t":7.13},{"tool":"K2Rmini","type":"positive","k":134217728,"t":14.1},
{"tool":"K2Rmini","type":"negative","k":1,"t":1.3},{"tool":"K2Rmini","type":"negative","k":2,"t":1.3},{"tool":"K2Rmini","type":"negative","k":4,"t":1.33},{"tool":"K2Rmini","type":"negative","k":8,"t":1.3},{"tool":"K2Rmini","type":"negative","k":16,"t":1.3},{"tool":"K2Rmini","type":"negative","k":32,"t":1.33},{"tool":"K2Rmini","type":"negative","k":64,"t":1.23},{"tool":"K2Rmini","type":"negative","k":128,"t":1.34},{"tool":"K2Rmini","type":"negative","k":256,"t":1.31},{"tool":"K2Rmini","type":"negative","k":512,"t":1.3},{"tool":"K2Rmini","type":"negative","k":1024,"t":1.2},{"tool":"K2Rmini","type":"negative","k":2048,"t":1.33},{"tool":"K2Rmini","type":"negative","k":4096,"t":1.27},{"tool":"K2Rmini","type":"negative","k":8192,"t":1.29},{"tool":"K2Rmini","type":"negative","k":16384,"t":1.3},{"tool":"K2Rmini","type":"negative","k":32768,"t":1.3},{"tool":"K2Rmini","type":"negative","k":65536,"t":1.25},{"tool":"K2Rmini","type":"negative","k":131072,"t":1.35},{"tool":"K2Rmini","type":"negative","k":262144,"t":1.34},{"tool":"K2Rmini","type":"negative","k":524288,"t":1.36},{"tool":"K2Rmini","type":"negative","k":1048576,"t":1.36},{"tool":"K2Rmini","type":"negative","k":2097152,"t":1.4},{"tool":"K2Rmini","type":"negative","k":4194304,"t":1.5},{"tool":"K2Rmini","type":"negative","k":8388608,"t":1.74},{"tool":"K2Rmini","type":"negative","k":16777216,"t":2.24},{"tool":"K2Rmini","type":"negative","k":33554432,"t":3.03},{"tool":"K2Rmini","type":"negative","k":67108864,"t":5.28},{"tool":"K2Rmini","type":"negative","k":134217728,"t":9.73},
{"tool":"Deacon","type":"positive","k":1,"t":1.3},{"tool":"Deacon","type":"positive","k":2,"t":1.3},{"tool":"Deacon","type":"positive","k":4,"t":1.3},{"tool":"Deacon","type":"positive","k":8,"t":1.28},{"tool":"Deacon","type":"positive","k":16,"t":1.28},{"tool":"Deacon","type":"positive","k":32,"t":1.28},{"tool":"Deacon","type":"positive","k":64,"t":1.27},{"tool":"Deacon","type":"positive","k":128,"t":1.28},{"tool":"Deacon","type":"positive","k":256,"t":1.28},{"tool":"Deacon","type":"positive","k":512,"t":1.29},{"tool":"Deacon","type":"positive","k":1024,"t":1.28},{"tool":"Deacon","type":"positive","k":2048,"t":1.3},{"tool":"Deacon","type":"positive","k":4096,"t":1.28},{"tool":"Deacon","type":"positive","k":8192,"t":1.3},{"tool":"Deacon","type":"positive","k":16384,"t":1.3},{"tool":"Deacon","type":"positive","k":32768,"t":1.3},{"tool":"Deacon","type":"positive","k":65536,"t":1.3},{"tool":"Deacon","type":"positive","k":131072,"t":1.3},{"tool":"Deacon","type":"positive","k":262144,"t":1.32},{"tool":"Deacon","type":"positive","k":524288,"t":1.32},{"tool":"Deacon","type":"positive","k":1048576,"t":1.32},{"tool":"Deacon","type":"positive","k":2097152,"t":1.32},{"tool":"Deacon","type":"positive","k":4194304,"t":1.38},{"tool":"Deacon","type":"positive","k":8388608,"t":1.48},{"tool":"Deacon","type":"positive","k":16777216,"t":1.74},{"tool":"Deacon","type":"positive","k":33554432,"t":2.32},{"tool":"Deacon","type":"positive","k":67108864,"t":3.52},{"tool":"Deacon","type":"positive","k":134217728,"t":5.93},
{"tool":"Deacon","type":"negative","k":1,"t":1.27},{"tool":"Deacon","type":"negative","k":2,"t":1.27},{"tool":"Deacon","type":"negative","k":4,"t":1.27},{"tool":"Deacon","type":"negative","k":8,"t":1.26},{"tool":"Deacon","type":"negative","k":16,"t":1.26},{"tool":"Deacon","type":"negative","k":32,"t":1.26},{"tool":"Deacon","type":"negative","k":64,"t":1.25},{"tool":"Deacon","type":"negative","k":128,"t":1.26},{"tool":"Deacon","type":"negative","k":256,"t":1.26},{"tool":"Deacon","type":"negative","k":512,"t":1.27},{"tool":"Deacon","type":"negative","k":1024,"t":1.26},{"tool":"Deacon","type":"negative","k":2048,"t":1.27},{"tool":"Deacon","type":"negative","k":4096,"t":1.26},{"tool":"Deacon","type":"negative","k":8192,"t":1.27},{"tool":"Deacon","type":"negative","k":16384,"t":1.27},{"tool":"Deacon","type":"negative","k":32768,"t":1.27},{"tool":"Deacon","type":"negative","k":65536,"t":1.27},{"tool":"Deacon","type":"negative","k":131072,"t":1.28},{"tool":"Deacon","type":"negative","k":262144,"t":1.29},{"tool":"Deacon","type":"negative","k":524288,"t":1.29},{"tool":"Deacon","type":"negative","k":1048576,"t":1.29},{"tool":"Deacon","type":"negative","k":2097152,"t":1.3},{"tool":"Deacon","type":"negative","k":4194304,"t":1.36},{"tool":"Deacon","type":"negative","k":8388608,"t":1.48},{"tool":"Deacon","type":"negative","k":16777216,"t":1.63},{"tool":"Deacon","type":"negative","k":33554432,"t":2.03},{"tool":"Deacon","type":"negative","k":67108864,"t":2.71},{"tool":"Deacon","type":"negative","k":134217728,"t":4.34}
]
},
"vconcat": [
{
"data": {"name": "single"},
"width": 716, "height": 463,
"title": {"text": "(a) Running time with a single thread.", "orient": "bottom", "anchor": "middle", "frame": "bounds", "offset": 32},
"encoding": {
"x": {"field": "k", "type": "quantitative", "scale": {"type": "log", "base": 2, "domain": [0.3923, 342140000], "nice": false}, "axis": {"values": [4, 64, 1024, 16384, 262144, 4194304, 67108864], "labelExpr": "datum.value == 4 ? '2²' : datum.value == 64 ? '2⁶' : datum.value == 1024 ? '2¹⁰' : datum.value == 16384 ? '2¹⁴' : datum.value == 262144 ? '2¹⁸' : datum.value == 4194304 ? '2²²' : '2²⁶'", "title": "# 𝑘-mers of interest", "grid": false}},
"y": {"field": "t", "type": "quantitative", "scale": {"type": "log", "domain": [1.466, 353], "nice": false}, "axis": {"values": [10, 100], "labelExpr": "datum.value == 1 ? '10⁰' : datum.value == 10 ? '10¹' : '10²'", "title": "Elapsed time (s)", "grid": true}}
},
"layer": [
{
"layer": [
{"mark": {"type": "line", "strokeWidth": 2.5},
"encoding": {
"color": {"field": "tool", "type": "nominal",
"scale": {"domain": ["Exact tool","Grep","Hyperscan","Seqkit","fqgrep","grepq","BTS","SBWT","Cleanifier","K2Rmini"," ","Approx tool","Deacon","  ","positive","negative"], "range": ["transparent","#e15759","#edc948","#9c755f","#59a14f","#76b7b2","#b07aa1","#484b6e","#bab0ac","#4e79a7","transparent","transparent","#ff9da7","transparent","#3a3a3a","#3a3a3a"]},
"legend": {"title": null,
"encode": {"symbols": {"update": {
"shape": {"signal": "['M-1,0H1','M-1,0H1M0,-0.3L0.068,-0.093L0.285,-0.093L0.109,0.035L0.176,0.243L0,0.115L-0.176,0.243L-0.109,0.035L-0.285,-0.093L-0.068,-0.093Z','M-1,0H1M0,-0.32L0.32,0L0,0.32L-0.32,0Z','M-1,0H1M0.15,-0.3L0.3,-0.15L0.15,0L0.3,0.15L0.15,0.3L0,0.15L-0.15,0.3L-0.3,0.15L-0.15,0L-0.3,-0.15L-0.15,-0.3L0,-0.15Z','M-1,0H1M0,-0.3L0.26,-0.15L0.26,0.15L0,0.3L-0.26,0.15L-0.26,-0.15Z','M-1,0H1M0.27,0A0.27,0.27 0 1,1 -0.27,0A0.27,0.27 0 1,1 0.27,0Z','M-1,0H1M-0.1,-0.3H0.1V-0.1H0.3V0.1H0.1V0.3H-0.1V0.1H-0.3V-0.1H-0.1Z','M-1,0H1M0,-0.3L0.285,-0.093L0.176,0.243L-0.176,0.243L-0.285,-0.093Z','M-1,0H1M-0.3,-0.2L0.3,-0.2L0,0.3Z','M-1,0H1M0.27,0A0.27,0.27 0 1,1 -0.27,0A0.27,0.27 0 1,1 0.27,0Z','M-1,0H1','M-1,0H1','M-1,0H1M-0.24,-0.24H0.24V0.24H-0.24Z','M-1,0H1','M-1,0H1','M-1,0H1'][indexof(['Exact tool','Grep','Hyperscan','Seqkit','fqgrep','grepq','BTS','SBWT','Cleanifier','K2Rmini',' ','Approx tool','Deacon','  ','positive','negative'], datum.value)]"},
"fill": {"signal": "['transparent','#e15759','#edc948','#9c755f','#59a14f','#76b7b2','#b07aa1','#484b6e','#bab0ac','#4e79a7','transparent','transparent','#ff9da7','transparent','#3a3a3a','#3a3a3a'][indexof(['Exact tool','Grep','Hyperscan','Seqkit','fqgrep','grepq','BTS','SBWT','Cleanifier','K2Rmini',' ','Approx tool','Deacon','  ','positive','negative'], datum.value)]"},
"stroke": {"signal": "['transparent','#e15759','#edc948','#9c755f','#59a14f','#76b7b2','#b07aa1','#484b6e','#bab0ac','#4e79a7','transparent','transparent','#ff9da7','transparent','#3a3a3a','#3a3a3a'][indexof(['Exact tool','Grep','Hyperscan','Seqkit','fqgrep','grepq','BTS','SBWT','Cleanifier','K2Rmini',' ','Approx tool','Deacon','  ','positive','negative'], datum.value)]"},
"strokeDash": {"signal": "datum.value === 'negative' ? [8, 3.5] : [1, 0]"},
"strokeWidth": {"value": 2.5},
"opacity": {"value": 1},
"size": {"value": 1600}
}}}}},
"strokeDash": {"field": "type", "type": "nominal", "scale": {"domain": ["positive", "negative"], "range": [[1, 0], [8, 3.5]]}, "legend": null}
}},
{"mark": {"type": "point", "filled": true, "size": 170, "stroke": "white", "strokeWidth": 1, "opacity": 1},
"encoding": {
"color": {"field": "tool", "type": "nominal"},
"shape": {"field": "tool", "type": "nominal", "legend": null,
"scale": {"domain": ["Grep","Hyperscan","Seqkit","fqgrep","grepq","BTS","SBWT","Cleanifier","K2Rmini","Deacon"], "range": ["M0,-0.8L0.18,-0.247L0.761,-0.247L0.29,0.094L0.47,0.647L0,0.306L-0.47,0.647L-0.29,0.094L-0.761,-0.247L-0.18,-0.247Z","diamond","M0.5,-1L1,-0.5L0.5,0L1,0.5L0.5,1L0,0.5L-0.5,1L-1,0.5L-0.5,0L-1,-0.5L-0.5,-1L0,-0.5Z","M0,-1L0.866,-0.5L0.866,0.5L0,1L-0.866,0.5L-0.866,-0.5Z","circle","M-0.33,-1H0.33V-0.33H1V0.33H0.33V1H-0.33V0.33H-1V-0.33H-0.33Z","M0,-1L0.951,-0.309L0.588,0.809L-0.588,0.809L-0.951,-0.309Z","triangle-down","circle","square"]}}
}}
]
},
{"mark": {"type": "point", "opacity": 0},
"encoding": {"y": {"field": "t", "type": "quantitative", "scale": {"type": "log", "domain": [1.466, 353], "nice": false}, "axis": {"orient": "left", "values": [2,3,4,5,6,7,8,9,20,30,40,50,60,70,80,90,200,300], "labels": false, "tickSize": 6, "tickWidth": 1.5, "grid": false, "title": null, "domain": false}}}}
],
"resolve": {"axis": {"y": "independent"}}
},
{
"data": {"name": "eight"},
"width": 716, "height": 462,
"title": {"text": "(b) Running time with 8 threads.", "orient": "bottom", "anchor": "middle", "frame": "bounds", "offset": 32},
"encoding": {
"x": {"field": "k", "type": "quantitative", "scale": {"type": "log", "base": 2, "domain": [0.3923, 342140000], "nice": false}, "axis": {"values": [4, 64, 1024, 16384, 262144, 4194304, 67108864], "labelExpr": "datum.value == 4 ? '2²' : datum.value == 64 ? '2⁶' : datum.value == 1024 ? '2¹⁰' : datum.value == 16384 ? '2¹⁴' : datum.value == 262144 ? '2¹⁸' : datum.value == 4194304 ? '2²²' : '2²⁶'", "title": "# 𝑘-mers of interest", "grid": false}},
"y": {"field": "t", "type": "quantitative", "scale": {"type": "log", "domain": [0.646, 398], "nice": false}, "axis": {"values": [1, 10, 100], "labelExpr": "datum.value == 1 ? '10⁰' : datum.value == 10 ? '10¹' : '10²'", "title": "Elapsed time (s)", "grid": true}}
},
"layer": [
{
"layer": [
{"mark": {"type": "line", "strokeWidth": 2.5},
"encoding": {
"color": {"field": "tool", "type": "nominal",
"scale": {"domain": ["Exact tool","Ripgrep","Seqkit","fqgrep","grepq","BTS","SBWT","Cleanifier","K2Rmini"," ","Approx tool","Deacon","  ","positive","negative"], "range": ["transparent","#f28e2b","#9c755f","#59a14f","#76b7b2","#b07aa1","#484b6e","#bab0ac","#4e79a7","transparent","transparent","#ff9da7","transparent","#3a3a3a","#3a3a3a"]},
"legend": {"title": null,
"encode": {"symbols": {"update": {
"shape": {"signal": "['M-1,0H1','M-1,0H1M-0.3,0.2L0.3,0.2L0,-0.3Z','M-1,0H1M0.15,-0.3L0.3,-0.15L0.15,0L0.3,0.15L0.15,0.3L0,0.15L-0.15,0.3L-0.3,0.15L-0.15,0L-0.3,-0.15L-0.15,-0.3L0,-0.15Z','M-1,0H1M0,-0.3L0.26,-0.15L0.26,0.15L0,0.3L-0.26,0.15L-0.26,-0.15Z','M-1,0H1M0.27,0A0.27,0.27 0 1,1 -0.27,0A0.27,0.27 0 1,1 0.27,0Z','M-1,0H1M-0.1,-0.3H0.1V-0.1H0.3V0.1H0.1V0.3H-0.1V0.1H-0.3V-0.1H-0.1Z','M-1,0H1M0,-0.3L0.285,-0.093L0.176,0.243L-0.176,0.243L-0.285,-0.093Z','M-1,0H1M-0.3,-0.2L0.3,-0.2L0,0.3Z','M-1,0H1M0.27,0A0.27,0.27 0 1,1 -0.27,0A0.27,0.27 0 1,1 0.27,0Z','M-1,0H1','M-1,0H1','M-1,0H1M-0.24,-0.24H0.24V0.24H-0.24Z','M-1,0H1','M-1,0H1','M-1,0H1'][indexof(['Exact tool','Ripgrep','Seqkit','fqgrep','grepq','BTS','SBWT','Cleanifier','K2Rmini',' ','Approx tool','Deacon','  ','positive','negative'], datum.value)]"},
"fill": {"signal": "['transparent','#f28e2b','#9c755f','#59a14f','#76b7b2','#b07aa1','#484b6e','#bab0ac','#4e79a7','transparent','transparent','#ff9da7','transparent','#3a3a3a','#3a3a3a'][indexof(['Exact tool','Ripgrep','Seqkit','fqgrep','grepq','BTS','SBWT','Cleanifier','K2Rmini',' ','Approx tool','Deacon','  ','positive','negative'], datum.value)]"},
"stroke": {"signal": "['transparent','#f28e2b','#9c755f','#59a14f','#76b7b2','#b07aa1','#484b6e','#bab0ac','#4e79a7','transparent','transparent','#ff9da7','transparent','#3a3a3a','#3a3a3a'][indexof(['Exact tool','Ripgrep','Seqkit','fqgrep','grepq','BTS','SBWT','Cleanifier','K2Rmini',' ','Approx tool','Deacon','  ','positive','negative'], datum.value)]"},
"strokeDash": {"signal": "datum.value === 'negative' ? [8, 3.5] : [1, 0]"},
"strokeWidth": {"value": 2.5},
"opacity": {"value": 1},
"size": {"value": 1600}
}}}}},
"strokeDash": {"field": "type", "type": "nominal", "scale": {"domain": ["positive", "negative"], "range": [[1, 0], [8, 3.5]]}, "legend": null}
}},
{"mark": {"type": "point", "filled": true, "size": 170, "stroke": "white", "strokeWidth": 1, "opacity": 1},
"encoding": {
"color": {"field": "tool", "type": "nominal"},
"shape": {"field": "tool", "type": "nominal", "legend": null,
"scale": {"domain": ["Ripgrep","Seqkit","fqgrep","grepq","BTS","SBWT","Cleanifier","K2Rmini","Deacon"], "range": ["triangle-up","M0.5,-1L1,-0.5L0.5,0L1,0.5L0.5,1L0,0.5L-0.5,1L-1,0.5L-0.5,0L-1,-0.5L-0.5,-1L0,-0.5Z","M0,-1L0.866,-0.5L0.866,0.5L0,1L-0.866,0.5L-0.866,-0.5Z","circle","M-0.33,-1H0.33V-0.33H1V0.33H0.33V1H-0.33V0.33H-1V-0.33H-0.33Z","M0,-1L0.951,-0.309L0.588,0.809L-0.588,0.809L-0.951,-0.309Z","triangle-down","circle","square"]}}
}}
]
},
{"mark": {"type": "point", "opacity": 0},
"encoding": {"y": {"field": "t", "type": "quantitative", "scale": {"type": "log", "domain": [0.646, 398], "nice": false}, "axis": {"orient": "left", "values": [0.7,0.8,0.9,2,3,4,5,6,7,8,9,20,30,40,50,60,70,80,90,200,300], "labels": false, "tickSize": 6, "tickWidth": 1.5, "grid": false, "title": null, "domain": false}}}}
],
"resolve": {"axis": {"y": "independent"}}
}
],
"resolve": {"scale": {"x": "independent", "y": "independent", "color": "independent", "shape": "independent", "strokeDash": "independent"}, "legend": {"color": "independent"}},
"config": {
"font": "DejaVu Sans",
"view": {"stroke": "black", "strokeWidth": 2},
"axis": {"labelFont": "DejaVu Sans", "labelFontSize": 20.8, "labelColor": "black", "titleFont": "DejaVu Sans", "titleFontSize": 20.8, "titleFontWeight": "normal", "titleColor": "black", "tickColor": "black", "tickWidth": 2, "tickSize": 9, "domain": false, "gridColor": "#cfcfcf", "gridDash": [7, 4], "gridWidth": 1.3},
"axisX": {"labelPadding": 3, "titlePadding": 9},
"axisY": {"labelPadding": 6, "titlePadding": 12},
"legend": {"orient": "right", "offset": 10, "padding": 2, "strokeColor": "#cccccc", "cornerRadius": 5, "fillColor": "white", "labelFont": "DejaVu Sans", "labelFontSize": 20.8, "labelColor": "black", "symbolSize": 1600, "symbolStrokeWidth": 2.5, "clipHeight": 31, "rowPadding": 0, "labelOffset": 24, "labelLimit": 200},
"title": {"font": "Lato", "fontSize": 22, "fontWeight": "normal", "color": "black"}
}
}
